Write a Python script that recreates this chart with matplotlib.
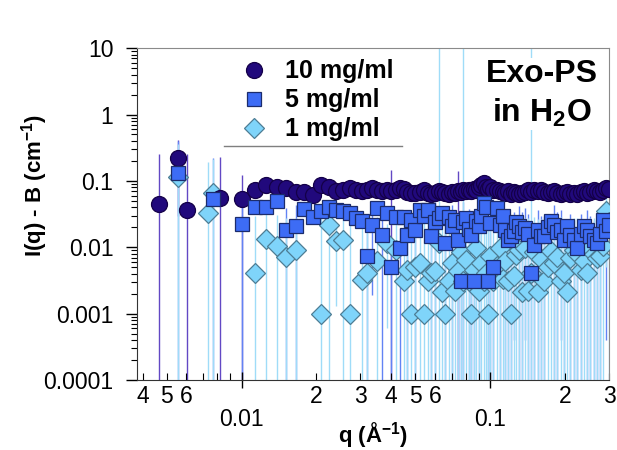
import numpy as np
import matplotlib
matplotlib.use("Agg")
import matplotlib.pyplot as plt
from matplotlib.ticker import LogLocator, FuncFormatter, NullFormatter
from matplotlib.lines import Line2D

plt.rcParams['font.family'] = ['Liberation Sans', 'DejaVu Sans']
plt.rcParams['mathtext.fontset'] = 'custom'
plt.rcParams['mathtext.rm'] = 'Liberation Sans'
plt.rcParams['mathtext.bf'] = 'Liberation Sans:bold'
plt.rcParams['mathtext.default'] = 'bf'

nan = np.nan

# scattering vector q (1/A), shared by all three concentrations
q = [0.00464, 0.00554, 0.00602, 0.0073, 0.0077, 0.00817, 0.0100,
     0.0113, 0.0126, 0.0139, 0.0151, 0.0165, 0.0178, 0.0193, 0.0208, 0.0224, 0.0240,
     0.0256, 0.0272, 0.0288, 0.0304, 0.0320, 0.0336, 0.0352, 0.0368, 0.0384, 0.0400,
     0.0416, 0.0432, 0.0448, 0.0464, 0.0480, 0.050, 0.052, 0.054, 0.056, 0.058,
     0.060, 0.062, 0.064, 0.066, 0.068, 0.070, 0.072, 0.074, 0.076, 0.078,
     0.080, 0.082, 0.084, 0.086, 0.088, 0.090, 0.092, 0.094, 0.096, 0.098,
     0.100, 0.103, 0.106, 0.109, 0.112, 0.115, 0.118, 0.121, 0.124, 0.127,
     0.130, 0.134, 0.138, 0.142, 0.146, 0.150, 0.155, 0.160, 0.165, 0.170,
     0.175, 0.180, 0.186, 0.192, 0.198, 0.204, 0.210, 0.217, 0.224, 0.231,
     0.238, 0.245, 0.252, 0.260, 0.268, 0.276, 0.284, 0.292, 0.300]

# 10 mg/ml
i10 = [0.045, 0.22, 0.036, nan, nan, 0.056, 0.054,
       0.072, 0.088, 0.081, 0.077, 0.068, 0.068, 0.062, 0.088, 0.080, 0.070,
       0.074, 0.079, 0.072, 0.070, 0.074, 0.078, 0.072, 0.070, 0.074, 0.070,
       0.072, 0.079, 0.076, 0.068, 0.066, 0.066, 0.068, 0.072, 0.066, 0.064,
       0.066, 0.070, 0.068, 0.066, 0.064, 0.068, 0.066, 0.070, 0.068, 0.072,
       0.070, 0.074, 0.070, 0.076, 0.072, 0.080, 0.088, 0.094, 0.082, 0.076,
       0.080, 0.072, 0.074, 0.070, 0.068, 0.066, 0.070, 0.064, 0.068, 0.066,
       0.064, 0.066, 0.068, 0.072, 0.068, 0.074, 0.070, 0.072, 0.068, 0.066,
       0.068, 0.070, 0.066, 0.064, 0.066, 0.068, 0.064, 0.066, 0.064, 0.068,
       0.070, 0.066, 0.068, 0.072, 0.070, 0.068, 0.074, 0.078, 0.076]
e10 = [0.21, 0.19, 0.22, nan, nan, 0.17, 0.07,
       0.012, 0.010, 0.010, 0.009, 0.010, 0.008, 0.009, 0.010, 0.008, 0.009,
       0.008, 0.009, 0.008, 0.009, 0.008, 0.009, 0.008, 0.009, 0.008, 0.075,
       0.008, 0.009, 0.008, 0.009, 0.008, 0.009, 0.010, 0.009, 0.008, 0.010,
       0.009, 0.010, 0.009, 0.010, 0.009, 0.010, 0.009, 0.070, 0.010, 0.009,
       0.010, 0.009, 0.010, 0.011, 0.010, 0.011, 0.012, 0.012, 0.011, 0.012,
       0.012, 0.011, 0.012, 0.011, 0.012, 0.011, 0.012, 0.011, 0.012, 0.011,
       0.012, 0.011, 0.012, 0.011, 0.012, 0.011, 0.012, 0.011, 0.012, 0.011,
       0.012, 0.011, 0.012, 0.011, 0.012, 0.011, 0.012, 0.011, 0.012, 0.011,
       0.012, 0.011, 0.012, 0.011, 0.012, 0.011, 0.012, 0.011, 0.012]

# 5 mg/ml
i5 = [nan, 0.13, nan, nan, 0.053, nan, 0.0227,
      0.040, 0.041, 0.049, 0.0184, 0.0209, 0.038, 0.029, 0.035, 0.041, 0.037,
      0.035, 0.033, 0.0277, 0.0245, 0.0073, 0.0219, 0.039, 0.0155, 0.033, 0.0051,
      0.029, 0.0097, 0.029, 0.0155, 0.026, 0.0184, 0.037, 0.030, 0.037, 0.0147,
      0.024, 0.028, 0.033, 0.0116, 0.029, 0.021, 0.026, 0.0129, 0.0031, 0.024,
      0.028, 0.019, 0.0155, 0.0031, 0.025, 0.021, 0.030, 0.047, 0.041, 0.0031,
      0.0234, 0.0051, 0.039, 0.022, 0.030, 0.018, 0.0129, 0.0147, 0.0174, 0.024,
      0.021, 0.017, 0.0194, 0.016, 0.0041, 0.011, 0.018, 0.015, 0.0147, 0.020,
      0.025, 0.0219, 0.017, 0.0184, 0.0129, 0.021, 0.0155, 0.013, 0.0097, 0.016,
      0.021, 0.018, 0.0147, 0.013, 0.0116, 0.016, 0.026, 0.0174, 0.022]
e5 = [nan, 0.27, nan, nan, 0.17, nan, 0.030,
      0.006, 0.006, 0.007, 0.020, 0.022, 0.006, 0.006, 0.006, 0.006, 0.006,
      0.006, 0.006, 0.005, 0.005, 0.009, 0.020, 0.006, 0.016, 0.006, 0.006,
      0.005, 0.010, 0.005, 0.016, 0.005, 0.019, 0.006, 0.005, 0.006, 0.016,
      0.024, 0.005, 0.005, 0.012, 0.005, 0.022, 0.005, 0.013, 0.004, 0.024,
      0.005, 0.019, 0.016, 0.004, 0.005, 0.021, 0.005, 0.007, 0.006, 0.004,
      0.024, 0.006, 0.006, 0.022, 0.005, 0.018, 0.013, 0.015, 0.017, 0.005,
      0.021, 0.017, 0.019, 0.016, 0.005, 0.011, 0.018, 0.015, 0.015, 0.006,
      0.006, 0.022, 0.017, 0.018, 0.013, 0.006, 0.016, 0.013, 0.010, 0.016,
      0.006, 0.018, 0.015, 0.013, 0.012, 0.016, 0.006, 0.017, 0.006]

# 1 mg/ml
i1 = [nan, 0.115, nan, 0.033, 0.065, nan, nan,
      0.0041, 0.0135, 0.0103, 0.0072, 0.0092, nan, nan, 0.001, 0.022, 0.0123,
      0.013, 0.001, nan, 0.0032, 0.0041, nan, 0.0062, nan, 0.0116, nan,
      0.0092, nan, 0.0031, 0.0046, 0.001, 0.0051, 0.0058, 0.001, 0.0031, 0.0041,
      0.0044, 0.0116, 0.0021, 0.001, 0.0031, 0.0058, 0.0022, 0.0044, 0.0085, 0.0031,
      0.0065, 0.0031, 0.001, 0.0046, 0.0098, 0.0022, 0.0058, 0.0031, 0.0041, 0.001,
      0.0074, 0.0031, 0.0052, 0.0098, 0.0033, 0.0062, 0.0031, 0.001, 0.0037, 0.0076,
      0.0092, 0.0021, 0.0098, 0.0022, 0.0041, 0.0085, 0.0021, 0.0067, 0.0031, 0.0051,
      0.0088, 0.0058, 0.0072, 0.0031, 0.0041, 0.0021, 0.0068, 0.0092, 0.0078, 0.0046,
      0.0062, 0.0041, 0.0098, 0.0078, 0.0068, 0.0073, 0.0105, 0.035, 0.024]
e1 = [nan, 0.25, nan, 0.16, 0.15, nan, nan,
      0.025, 0.018, 0.020, 0.020, 0.018, nan, nan, 0.030, 0.022, 0.011,
      0.014, 0.025, nan, 0.025, 0.020, nan, 0.022, nan, 0.011, nan,
      0.020, nan, 0.025, 0.020, 0.030, 0.020, 0.022, 0.030, 0.025, 0.020,
      0.020, 12.0, 0.030, 0.025, 0.025, 0.022, 0.030, 0.020, 0.020, 12.0,
      0.020, 0.025, 0.030, 0.022, 0.018, 0.030, 0.022, 0.025, 0.022, 0.030,
      0.020, 0.025, 0.022, 0.018, 0.025, 0.020, 0.025, 0.030, 0.025, 0.020,
      0.018, 0.025, 0.018, 0.025, 12.0, 0.020, 0.025, 0.020, 0.025, 0.022,
      0.020, 0.022, 0.020, 0.025, 0.022, 0.025, 0.020, 0.018, 0.020, 0.022,
      0.020, 0.022, 0.018, 0.020, 0.020, 0.020, 0.018, 0.030, 0.025]

labels = ['10 mg/ml', '5 mg/ml', '1 mg/ml']

# marker, face, edge, errorbar colour, marker size, zorder
styles = [
    ('o', '#21097c', '#140048', '#6248c4', 11.5, 4),
    ('s', '#3d6cf5', '#1c2c6c', '#6283f4', 10.5, 5),
    ('D', '#7fd4fa', '#4d7d94', '#9fdcf8', 10.5, 3),
]
data = [(i10, e10), (i5, e5), (i1, e1)]

fig = plt.figure(figsize=(6.17, 4.5), dpi=100)
ax = fig.add_axes([0.222, 0.1556, 0.765, 0.7374])
ax.set_xscale('log')
ax.set_yscale('log')

for (vals, errs), st in zip(data, styles):
    ax.errorbar(q, vals, yerr=errs, fmt='none', ecolor=st[3], elinewidth=1.0,
                capsize=0, zorder=1)

handles = []
for (vals, errs), st, lab in zip(data, styles, labels):
    ax.plot(q, vals, ls='none', marker=st[0], ms=st[4], mfc=st[1], mec=st[2],
            mew=0.9, zorder=st[5])
    handles.append(Line2D([], [], ls='none', marker=st[0], ms=st[4], mfc=st[1],
                          mec=st[2], mew=0.9))

ax.set_xlim(0.0038, 0.3)
ax.set_ylim(0.0001, 10)

# ticks
ax.yaxis.set_major_locator(LogLocator(base=10, numticks=10))
ax.yaxis.set_minor_locator(LogLocator(base=10, subs=np.arange(2, 10), numticks=20))
ax.yaxis.set_major_formatter(FuncFormatter(lambda v, p: '%g' % v))
ax.yaxis.set_minor_formatter(NullFormatter())
ax.xaxis.set_major_locator(LogLocator(base=10, numticks=10))
ax.xaxis.set_minor_locator(LogLocator(base=10, subs=np.arange(2, 10), numticks=20))
ax.xaxis.set_major_formatter(FuncFormatter(lambda v, p: '%g' % v))


def minor_label(v, p):
    m = int(round(v / 10 ** np.floor(np.log10(v))))
    return str(m) if 2 <= m <= 6 else ''


ax.xaxis.set_minor_formatter(FuncFormatter(minor_label))

ax.tick_params(axis='y', which='major', direction='out', length=8, width=1,
               labelsize=16.5, pad=9)
ax.tick_params(axis='y', which='minor', direction='out', length=4, width=0.8)
ax.tick_params(axis='x', which='major', direction='inout', length=12, width=1,
               labelsize=16.5, pad=14)
ax.tick_params(axis='x', which='minor', direction='in', length=5, width=0.8,
               labelsize=16.5, pad=3.5)

for side in ['left', 'bottom']:
    ax.spines[side].set_color('#333333')
for side in ['top', 'right']:
    ax.spines[side].set_color('#8a8a8a')

ax.set_ylabel('I(q) - B (cm$^{-1}$)', fontsize=16, fontweight='bold')
ax.yaxis.set_label_coords(-0.185, 0.585)
ax.set_xlabel('q (Å$^{-1}$)', fontsize=16, fontweight='bold')
ax.xaxis.set_label_coords(0.5, -0.12)

leg = ax.legend(handles, labels, loc='upper left', bbox_to_anchor=(0.213, 0.966),
                frameon=False, prop={'weight': 'bold', 'size': 18},
                handlelength=1.3, handletextpad=0.6, labelspacing=0.2,
                borderaxespad=0, borderpad=0)
ax.add_line(Line2D([0.184, 0.561], [0.704, 0.704], transform=ax.transAxes,
                   color='#7f7f7f', lw=1, zorder=6))

ax.text(0.858, 0.862, 'Exo-PS\nin H$_2$O', transform=ax.transAxes, ha='center',
        va='center', fontsize=23, fontweight='bold', linespacing=1.3,
        bbox=dict(facecolor='white', edgecolor='none', pad=1), zorder=7)

fig.savefig('out.png', dpi=100)
